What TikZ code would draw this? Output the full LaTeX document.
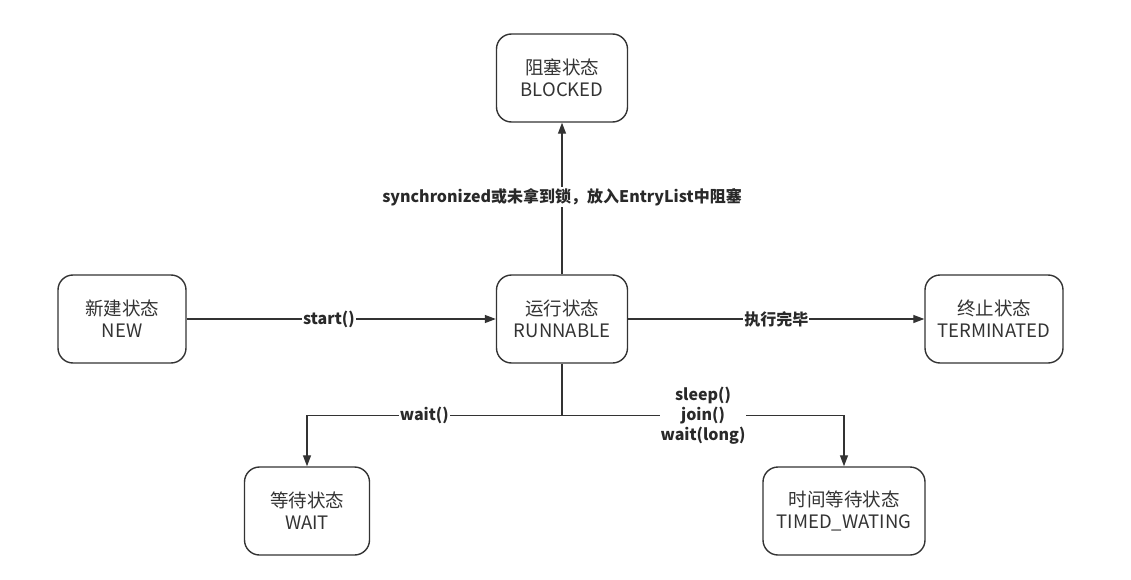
\documentclass[tikz,border=0pt]{standalone}
\usepackage{fontspec}
\setmainfont{Noto Sans CJK SC}
\newfontfamily\cjk{Noto Sans CJK SC}
\usepackage{tikz}
\usetikzlibrary{arrows.meta, positioning, calc}
\definecolor{ink}{HTML}{333333}

\begin{document}
\begin{tikzpicture}[x=1pt, y=-1pt,
    state/.style={draw=ink, line width=1.4pt, rounded corners=15pt, text=ink,
        minimum height=88pt, align=center, inner sep=0pt,
        font=\cjk\fontsize{18.5}{22}\selectfont},
    arr/.style={draw=ink, line width=1.3pt, -{Triangle[length=11pt, width=8pt]}},
    lbl/.style={fill=white, text=ink!80!black, inner sep=1pt, align=center,
        font=\cjk\bfseries\fontsize{16}{20}\selectfont}]

    \useasboundingbox (0,0) rectangle (1131,580);

    \node[state, minimum width=131pt] (blocked)    at (562,78)  {阻塞状态\\BLOCKED};
    \node[state, minimum width=128pt] (new)        at (122,319) {新建状态\\NEW};
    \node[state, minimum width=131pt] (runnable)   at (562,319) {运行状态\\RUNNABLE};
    \node[state, minimum width=138pt] (terminated) at (994,319) {终止状态\\TERMINATED};
    \node[state, minimum width=125pt] (wait)       at (307,511) {等待状态\\WAIT};
    \node[state, minimum width=162pt] (timed)      at (844,511) {时间等待状态\\TIMED\_WATING};

    \draw[arr] (new) -- node[lbl, pos=0.46] {start()} (runnable);
    \draw[arr] (runnable) -- node[lbl] {执行完毕} (terminated);
    \draw[arr] (runnable) -- node[lbl, pos=0.51] {synchronized或未拿到锁，放入EntryList中阻塞} (blocked);

    \coordinate (fork) at ($(runnable.south)+(0,52)$);
    \draw[ink, line width=1.3pt] (runnable.south) -- (fork);
    \draw[arr] (fork) -| node[lbl, pos=0.27] {wait()} (wait.north);
    \draw[arr] (fork) -| node[lbl, pos=0.25] {sleep()\\join()\\wait(long)} (timed.north);

\end{tikzpicture}
\end{document}
